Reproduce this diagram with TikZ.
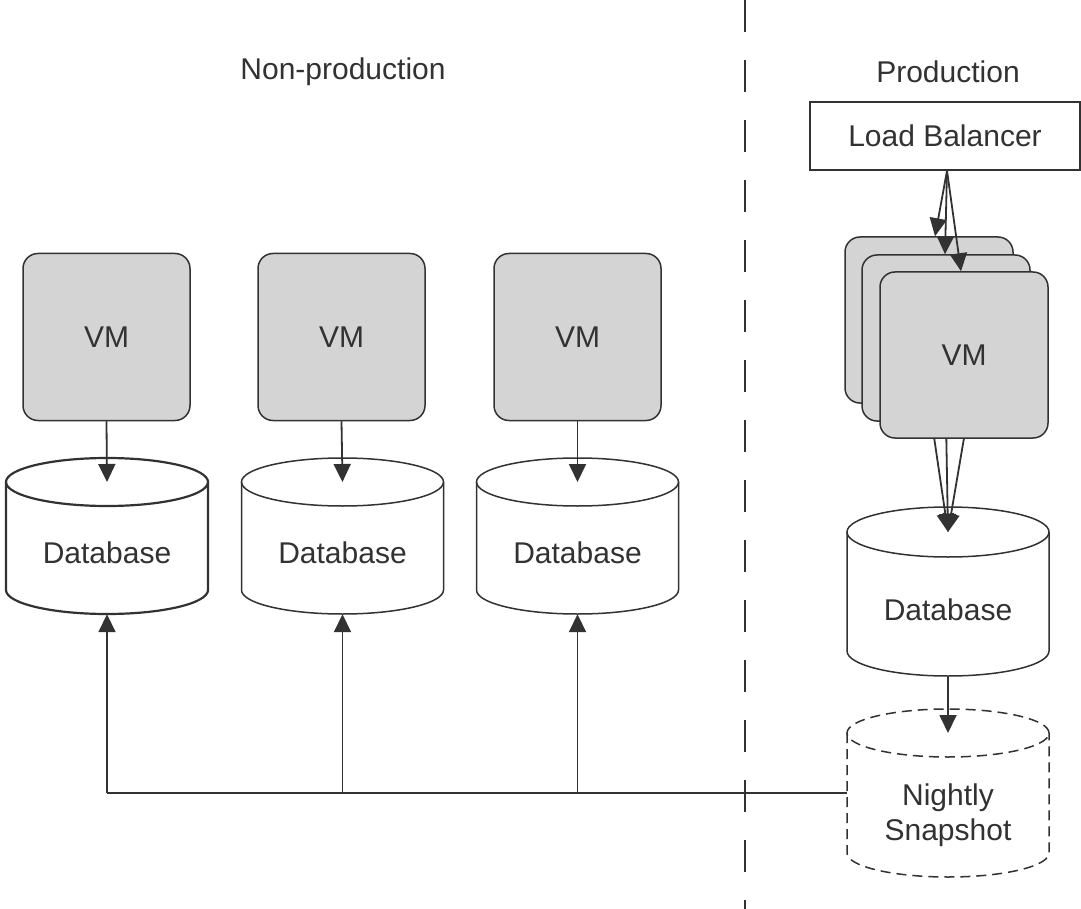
\documentclass[tikz,border=0pt]{standalone}
\usepackage{fontspec}
\setmainfont{Liberation Sans}
\usetikzlibrary{arrows.meta,calc}
\definecolor{ink}{RGB}{50,50,50}
\definecolor{vmfill}{RGB}{212,212,212}
\newcommand{\mycyl}[6]{% name, cx, ytop, ybot, ry, style
  \node[inner sep=0pt, minimum width=202pt, minimum height={(#4-#3+2*#5)*1pt}] (#1) at (#2,{(#3+#4)/2}) {};
  \coordinate (#1-top) at (#2,#3);
  \draw[#6] (#2-101,#3) -- (#2-101,#4) arc[start angle=180,end angle=360,x radius=101pt,y radius=#5pt] -- (#2+101,#3);
  \draw[#6] (#2,#3) ellipse[x radius=101pt,y radius=#5pt];
}
\begin{document}
\begin{tikzpicture}[x=1pt,y=-1pt,
  every node/.style={text=ink, font=\fontsize{30}{35}\selectfont},
  vmbox/.style={draw=ink, line width=1.5pt, fill=vmfill, rounded corners=15pt, minimum width=167pt, minimum height=167pt, inner sep=0pt},
  cylline/.style={draw=ink, line width=1.5pt},
  snapline/.style={draw=ink, line width=1.5pt, dash pattern=on 10pt off 6pt},
  conn/.style={draw=ink, line width=1.8pt},
  arr/.style={conn, -{Triangle[length=18pt,width=17pt]}},
  lbox/.style={draw=ink, line width=1.5pt, fill=white, minimum width=270pt, minimum height=68pt, inner sep=0pt}]
\useasboundingbox (0,0) rectangle (1081,909);
\fill[white] (0,0) rectangle (1081,909);
% separator
\draw[ink, line width=1.5pt, dash pattern=on 32pt off 28pt] (745,0) -- (745,909);
% labels
\node (np) at (343,72) {Non-production};
\node (pr) at (948,72) {Production};
% non-production
\node[vmbox] (vm1) at (106.5,337) {VM};
\node[vmbox] (vm2) at (341.5,337) {VM};
\node[vmbox] (vm3) at (577.5,337) {VM};
\mycyl{db1}{107}{482}{590}{24}{cylline, line width=2.2pt}
\mycyl{db2}{342.5}{482}{590}{24}{cylline}
\mycyl{db3}{577.5}{482}{590}{24}{cylline}
\node (t1) at (107,553) {Database};
\node (t2) at (342.5,553) {Database};
\node (t3) at (577.5,553) {Database};
\draw[arr] (vm1.south) -- (db1-top);
\draw[arr] (vm2.south) -- (db2-top);
\draw[arr] (vm3.south) -- (db3-top);
% production
\node[lbox] (lb) at (945,136) {Load Balancer};
\mycyl{pdb}{948}{532}{651}{25}{cylline}
\node (t4) at (948,610) {Database};
\mycyl{snap}{948}{733}{853}{24}{snapline}
\node[align=center, font=\fontsize{30}{35}\selectfont] (t5) at (948,815) {Nightly\\Snapshot};
% VM stack: arrows to db first
\coordinate (pbk) at (929,403);
\coordinate (pmd) at (946,421);
\coordinate (pfr) at (964,438);
\draw[arr] (pbk) -- (pdb-top);
\draw[arr] (pmd) -- (pdb-top);
\draw[arr] (pfr) -- (pdb-top);
\node[vmbox, minimum width=168pt, minimum height=166pt] (vmb) at (929,320) {};
\node[vmbox, minimum width=168pt, minimum height=166pt] (vmm) at (946,338) {};
\node[vmbox, minimum width=168pt, minimum height=166pt] (vmf) at (964,355) {VM};
\draw[arr] ([xshift=2pt]lb.south) -- ([xshift=6pt]vmb.north);
\draw[arr] ([xshift=2pt]lb.south) -- ([xshift=-1pt]vmm.north);
\draw[arr] ([xshift=2pt]lb.south) -- ([xshift=-3pt]vmf.north);
\draw[arr] (pdb.south) -- (snap-top);
% snapshot to non-production
\coordinate (j1) at (db1.south |- snap.west);
\coordinate (j2) at (db2.south |- snap.west);
\coordinate (j3) at (db3.south |- snap.west);
\draw[conn] (snap.west) -- (j1);
\draw[arr] (j1) -- (db1.south);
\draw[arr] (j2) -- (db2.south);
\draw[arr] (j3) -- (db3.south);
\end{tikzpicture}
\end{document}
